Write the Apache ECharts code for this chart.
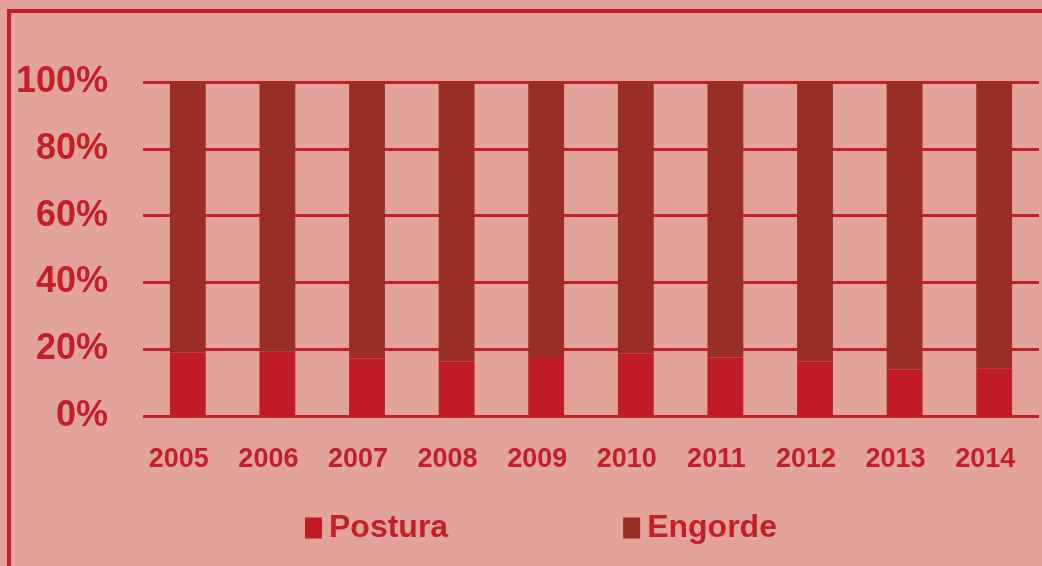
<!DOCTYPE html>
<html>
<head>
    <meta charset="utf-8">
    <title>Postura / Engorde</title>
    <script src="https://cdn.jsdelivr.net/npm/echarts@6/dist/echarts.min.js"></script>
    <style>
        html, body { margin: 0; padding: 0; background: #e2a39d; }
    </style>
</head>
<body>
  <div id="main" style="width: 1042px;height:566px;"></div>

  <script>
      // anos e percentagens
      var years = ['2005', '2006', '2007', '2008', '2009', '2010', '2011', '2012', '2013', '2014'];
      var postura = [19.0, 19.2, 17.2, 16.3, 17.4, 18.7, 17.5, 16.3, 13.9, 14.3];
      var engorde = [81.0, 80.8, 82.8, 83.7, 82.6, 81.3, 82.5, 83.7, 86.1, 85.7];

      var red = '#c41e2a';
      var myChart = echarts.init(document.getElementById('main'));

      var option = {
          backgroundColor: '#e2a39d',
          animation: false,
          graphic: [{
              type: 'rect',
              shape: { x: 9, y: 11, width: 1100, height: 700 },
              style: { fill: 'none', stroke: red, lineWidth: 4 }
          }],
          grid: { left: 143, right: 3, top: 82, bottom: 150 },
          legend: {
              left: 305,
              top: 512,
              padding: 0,
              itemWidth: 17,
              itemHeight: 21,
              itemGap: 175,
              icon: 'rect',
              textStyle: {
                  color: red,
                  fontFamily: '"Liberation Sans", sans-serif',
                  fontWeight: 'bold',
                  fontSize: 32,
                  padding: [0, 0, 0, 2]
              },
              data: ['Postura', 'Engorde']
          },
          xAxis: {
              type: 'category',
              data: years,
              axisLine: { show: false },
              axisTick: { show: false },
              axisLabel: {
                  color: red,
                  fontFamily: '"Liberation Sans", sans-serif',
                  fontWeight: 'bold',
                  fontSize: 27,
                  margin: 30,
                  padding: [0, 18, 0, 0]
              }
          },
          yAxis: {
              type: 'value',
              min: 0,
              max: 100,
              interval: 20,
              axisLabel: {
                  formatter: '{value}%',
                  color: red,
                  fontFamily: '"Liberation Sans", sans-serif',
                  fontWeight: 'bold',
                  fontSize: 36,
                  margin: 35
              },
              splitLine: { lineStyle: { color: red, width: 3 } }
          },
          series: [{
              name: 'Postura',
              type: 'bar',
              stack: 'total',
              barWidth: '40%',
              itemStyle: { color: '#c01b27' },
              data: postura
          }, {
              name: 'Engorde',
              type: 'bar',
              stack: 'total',
              itemStyle: { color: '#9b2d27' },
              data: engorde
          }]
      };

      myChart.setOption(option);
  </script>
</body>
</html>
